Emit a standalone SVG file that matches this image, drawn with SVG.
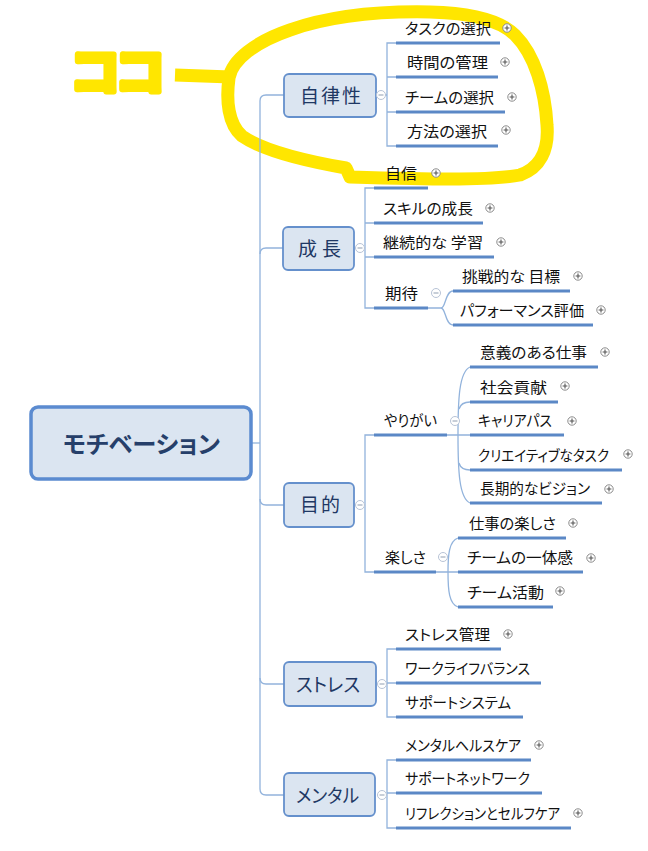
<svg xmlns="http://www.w3.org/2000/svg" width="648" height="851" viewBox="0 0 648 851">
<defs>
<style>
.conn{fill:none;stroke:#92b3dc;stroke-width:1.3}
.ul{fill:none;stroke:#5b88c6;stroke-width:3}
.t{font-family:"Noto Sans CJK JP","Noto Sans",sans-serif;font-size:15px;fill:#111;font-feature-settings:"palt"}
.mt{font-family:"Noto Sans CJK JP","Noto Sans",sans-serif;font-size:19px;fill:#1f3864;font-feature-settings:"palt"}
.box{fill:#dbe5f1;stroke:#6590cc;stroke-width:1.8}
.hl{fill:none;stroke:#ffe600;stroke-width:13;stroke-linejoin:round}
</style>
<g id="plus"><circle r="4.2" fill="#fff" stroke="#8a8a8a" stroke-width="1"/><path d="M-2.4,0H2.4M0,-2.4V2.4" stroke="#555" stroke-width="1.1"/></g>
<g id="minus"><circle r="4.5" fill="#fff" stroke="#b7c3d6" stroke-width="1"/><path d="M-2.5,0H2.5" stroke="#9aa6b8" stroke-width="1.1"/></g>
</defs>
<rect width="648" height="851" fill="#fff"/>

<g id="annotation">
<path class="hl" d="M229,78 C232,60 255,42 290,30 C330,16 380,11 430,12 C470,13 500,20 515,35 C535,55 545,90 547,125 C549,150 540,168 520,175 C490,181 420,179 350,177 L346,168 C300,160 262,150 242,136 C228,124 226,100 229,78 Z"/>
<path d="M175,75 L231,77" stroke="#ffe600" stroke-width="13" fill="none"/>
<text x="70" y="90" font-family="'Noto Sans CJK JP',sans-serif" font-size="50" font-weight="700" fill="#ffe600" stroke="#ffe600" stroke-width="6" stroke-linejoin="round" letter-spacing="-5">ココ</text>
</g>

<g id="connectors">
<path class="conn" d="M252,443 L260,443"/>
<path class="conn" d="M284,95 L266,95 Q260,95 260,101 L260,789 Q260,795 266,795 L284,795"/>
<path class="conn" d="M260,254 Q260,248 266,248 L283,248"/>
<path class="conn" d="M260,499 Q260,505 266,505 L284,505"/>
<path class="conn" d="M260,678 Q260,684 266,684 L284,684"/>
<path class="conn" d="M385,95 L387,95 M396,43 L387,43 L387,146 L396,146 M387,77 L396,77 M387,112 L396,112"/>
<path class="conn" d="M364,248 L365,248 M374,188 L365,188 L365,308 L374,308 M365,223 L374,223 M365,257 L374,257"/>
<path class="conn" d="M428,308 L441,308 C446,308 445,291 453,291 M441,308 C446,308 445,325 453,325"/>
<path class="conn" d="M364,505 L365,505 M374,435 L365,435 L365,572 L374,572"/>
<path class="conn" d="M447,435 L470,435 M470,367 C459,372 458,400 458,435 C458,470 459,498 470,503 M459,409 Q461,402 470,402 M459,463 Q461,470 470,470"/>
<path class="conn" d="M436,572 L458,572 M458,538 C449,541 448,555 448,572 C448,590 449,604 458,607"/>
<path class="conn" d="M386,684 L387,684 M396,649 L387,649 L387,717 L396,717 M387,683 L396,683"/>
<path class="conn" d="M386,795 L387,795 M396,760 L387,760 L387,828 L396,828 M387,793 L396,793"/>
</g>

<g id="root">
<rect x="31" y="407" width="220" height="72" rx="7" fill="#dbe5f1" stroke="#5b8bd0" stroke-width="3.5"/>
<text x="63" y="453" font-family="'Noto Sans CJK JP',sans-serif" font-size="24" font-weight="700" fill="#263f6a" textLength="157" lengthAdjust="spacingAndGlyphs" style="font-feature-settings:'palt'">モチベーション</text>
</g>

<g id="topic-jiritsusei">
<rect class="box" x="284" y="74" width="92" height="43" rx="5"/>
<text class="mt" x="300" y="103" textLength="61" lengthAdjust="spacing">自律性</text>
<use href="#minus" x="381" y="95"/>
</g>
<g id="topic-seicho">
<rect class="box" x="283" y="227" width="71" height="43" rx="5"/>
<text class="mt" x="298" y="256" textLength="43" lengthAdjust="spacing">成長</text>
<use href="#minus" x="360" y="248"/>
</g>
<g id="topic-mokuteki">
<rect class="box" x="284" y="483" width="70" height="44" rx="5"/>
<text class="mt" x="300" y="512" textLength="40" lengthAdjust="spacing">目的</text>
<use href="#minus" x="360" y="505"/>
</g>
<g id="topic-stress">
<rect class="box" x="284" y="662" width="92" height="44" rx="5"/>
<text class="mt" x="296" y="692" textLength="64" lengthAdjust="spacingAndGlyphs">ストレス</text>
<use href="#minus" x="382" y="684"/>
</g>
<g id="topic-mental">
<rect class="box" x="284" y="773" width="91" height="43" rx="5"/>
<text class="mt" x="296" y="803" textLength="63" lengthAdjust="spacingAndGlyphs">メンタル</text>
<use href="#minus" x="382" y="795"/>
</g>

<g id="n-task"><path class="ul" d="M396,43H500"/><text class="t" x="405" y="34" textLength="86" lengthAdjust="spacingAndGlyphs">タスクの選択</text><use href="#plus" x="507" y="28"/></g>
<g id="n-jikan"><path class="ul" d="M396,77H498"/><text class="t" x="407" y="68" textLength="81" lengthAdjust="spacingAndGlyphs">時間の管理</text><use href="#plus" x="505" y="62"/></g>
<g id="n-team"><path class="ul" d="M396,112H505"/><text class="t" x="405" y="103" textLength="89" lengthAdjust="spacingAndGlyphs">チームの選択</text><use href="#plus" x="512" y="97"/></g>
<g id="n-houhou"><path class="ul" d="M396,146H498"/><text class="t" x="407" y="137" textLength="80" lengthAdjust="spacingAndGlyphs">方法の選択</text><use href="#plus" x="506" y="130"/></g>

<g id="n-jishin"><path class="ul" d="M374,188H428"/><text class="t" x="385" y="179" textLength="32" lengthAdjust="spacingAndGlyphs">自信</text><use href="#plus" x="436" y="173"/></g>
<g id="n-skill"><path class="ul" d="M374,223H483"/><text class="t" x="383" y="214" textLength="90" lengthAdjust="spacingAndGlyphs">スキルの成長</text><use href="#plus" x="490" y="208"/></g>
<g id="n-keizoku"><path class="ul" d="M374,257H494"/><text class="t" x="383" y="248" textLength="100" lengthAdjust="spacingAndGlyphs" xml:space="preserve">継続的な 学習</text><use href="#plus" x="501" y="242"/></g>
<g id="n-kitai"><path class="ul" d="M374,308H428"/><text class="t" x="385" y="299" textLength="33" lengthAdjust="spacingAndGlyphs">期待</text><use href="#minus" x="436" y="293"/></g>
<g id="n-chosen"><path class="ul" d="M453,291H570"/><text class="t" x="462" y="282" textLength="98" lengthAdjust="spacingAndGlyphs" xml:space="preserve">挑戦的な 目標</text><use href="#plus" x="578" y="276"/></g>
<g id="n-perf"><path class="ul" d="M453,325H593"/><text class="t" x="460" y="316" textLength="124" lengthAdjust="spacingAndGlyphs">パフォーマンス評価</text><use href="#plus" x="601" y="310"/></g>

<g id="n-yarigai"><path class="ul" d="M374,435H447"/><text class="t" x="384" y="426" textLength="53" lengthAdjust="spacingAndGlyphs">やりがい</text><use href="#minus" x="455" y="421"/></g>
<g id="n-igi"><path class="ul" d="M470,367H598"/><text class="t" x="480" y="358" textLength="107" lengthAdjust="spacingAndGlyphs">意義のある仕事</text><use href="#plus" x="605" y="352"/></g>
<g id="n-shakai"><path class="ul" d="M470,402H558"/><text class="t" x="480" y="393" textLength="67" lengthAdjust="spacingAndGlyphs">社会貢献</text><use href="#plus" x="565" y="386"/></g>
<g id="n-career"><path class="ul" d="M470,435H564"/><text class="t" x="478" y="426" textLength="74" lengthAdjust="spacingAndGlyphs">キャリアパス</text><use href="#plus" x="572" y="421"/></g>
<g id="n-creative"><path class="ul" d="M470,470H622"/><text class="t" x="478" y="461" textLength="131" lengthAdjust="spacingAndGlyphs">クリエイティブなタスク</text><use href="#plus" x="628" y="454"/></g>
<g id="n-vision"><path class="ul" d="M470,503H602"/><text class="t" x="480" y="494" textLength="110" lengthAdjust="spacingAndGlyphs">長期的なビジョン</text><use href="#plus" x="609" y="489"/></g>

<g id="n-tanoshisa"><path class="ul" d="M374,572H436"/><text class="t" x="385" y="563" textLength="41" lengthAdjust="spacingAndGlyphs">楽しさ</text><use href="#minus" x="443" y="557"/></g>
<g id="n-shigoto"><path class="ul" d="M458,538H566"/><text class="t" x="469" y="529" textLength="87" lengthAdjust="spacingAndGlyphs">仕事の楽しさ</text><use href="#plus" x="573" y="523"/></g>
<g id="n-ittaikan"><path class="ul" d="M458,572H583"/><text class="t" x="467" y="563" textLength="106" lengthAdjust="spacingAndGlyphs">チームの一体感</text><use href="#plus" x="591" y="558"/></g>
<g id="n-katsudo"><path class="ul" d="M458,607H553"/><text class="t" x="467" y="598" textLength="77" lengthAdjust="spacingAndGlyphs">チーム活動</text><use href="#plus" x="560" y="591"/></g>

<g id="n-stress-kanri"><path class="ul" d="M396,649H501"/><text class="t" x="405" y="640" textLength="85" lengthAdjust="spacingAndGlyphs">ストレス管理</text><use href="#plus" x="508" y="634"/></g>
<g id="n-wlb"><path class="ul" d="M396,683H541"/><text class="t" x="405" y="674" textLength="125" lengthAdjust="spacingAndGlyphs">ワークライフバランス</text></g>
<g id="n-support-sys"><path class="ul" d="M396,717H523"/><text class="t" x="405" y="708" textLength="106" lengthAdjust="spacingAndGlyphs">サポートシステム</text></g>

<g id="n-mental-health"><path class="ul" d="M396,760H531"/><text class="t" x="405" y="751" textLength="116" lengthAdjust="spacingAndGlyphs">メンタルヘルスケア</text><use href="#plus" x="539" y="745"/></g>
<g id="n-support-net"><path class="ul" d="M396,793H542"/><text class="t" x="405" y="784" textLength="125" lengthAdjust="spacingAndGlyphs">サポートネットワーク</text></g>
<g id="n-reflection"><path class="ul" d="M396,828H571"/><text class="t" x="405" y="819" textLength="155" lengthAdjust="spacingAndGlyphs">リフレクションとセルフケア</text><use href="#plus" x="578" y="813"/></g>
</svg>
